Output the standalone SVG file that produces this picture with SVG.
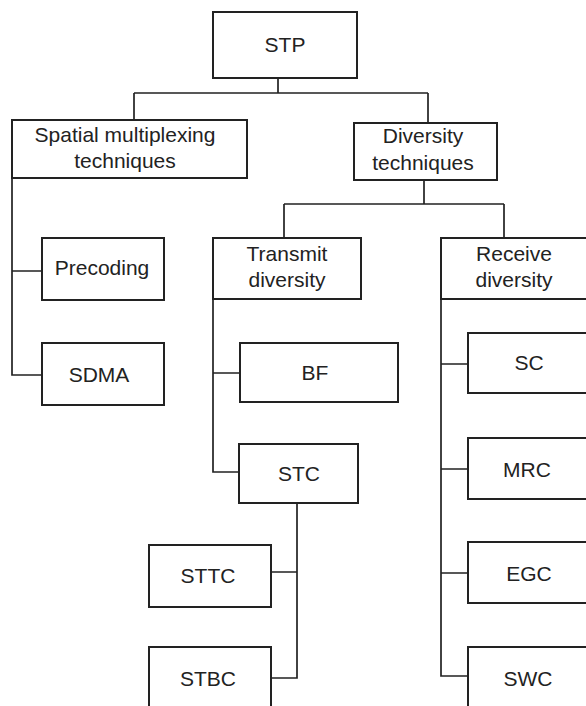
<svg xmlns="http://www.w3.org/2000/svg" width="586" height="706" viewBox="0 0 586 706">
<style>
.box{fill:#fff;stroke:#222;stroke-width:2}
.t{font-family:"Liberation Sans",Arial,sans-serif;font-size:21px;fill:#222;text-anchor:middle}
.c{fill:none;stroke:#222;stroke-width:1.7}
</style>
<rect width="586" height="706" fill="#fff"/>
<g id="connectors">
<path class="c" d="M278,78 V93 M134,93 H428 M134,93 V120 M428,93 V123"/>
<path class="c" d="M12,178 V375 H42 M12,271 H42"/>
<path class="c" d="M424,180 V204 M284,204 H504 M284,204 V238 M504,204 V238"/>
<path class="c" d="M213,299 V472 H239 M213,373 H240"/>
<path class="c" d="M297,503 V678 H271 M271,572 H297"/>
<path class="c" d="M441,299 V676 H468 M441,364 H468 M441,469 H468 M441,573 H468"/>
</g>
<g id="stp"><rect class="box" x="213" y="12" width="144" height="66"/><text class="t" x="285" y="52">STP</text></g>
<g id="spatial"><rect class="box" x="12" y="120" width="235" height="58"/><text class="t" x="125" y="142">Spatial multiplexing</text><text class="t" x="125" y="168">techniques</text></g>
<g id="diversity"><rect class="box" x="354" y="123" width="143" height="57"/><text class="t" x="423" y="143">Diversity</text><text class="t" x="423" y="170">techniques</text></g>
<g id="precoding"><rect class="box" x="42" y="238" width="122" height="62"/><text class="t" x="102" y="275">Precoding</text></g>
<g id="sdma"><rect class="box" x="42" y="343" width="122" height="62"/><text class="t" x="99" y="382">SDMA</text></g>
<g id="transmit"><rect class="box" x="213" y="238" width="148" height="61"/><text class="t" x="287" y="261">Transmit</text><text class="t" x="287" y="287">diversity</text></g>
<g id="receive"><rect class="box" x="441" y="238" width="150" height="61"/><text class="t" x="514" y="261">Receive</text><text class="t" x="514" y="287">diversity</text></g>
<g id="bf"><rect class="box" x="240" y="343" width="158" height="59"/><text class="t" x="315" y="380">BF</text></g>
<g id="stc"><rect class="box" x="239" y="444" width="119" height="59"/><text class="t" x="299" y="481">STC</text></g>
<g id="sttc"><rect class="box" x="149" y="545" width="122" height="62"/><text class="t" x="208" y="583">STTC</text></g>
<g id="stbc"><rect class="box" x="149" y="647" width="122" height="70"/><text class="t" x="208" y="686">STBC</text></g>
<g id="sc"><rect class="box" x="468" y="333" width="124" height="60"/><text class="t" x="529" y="370">SC</text></g>
<g id="mrc"><rect class="box" x="468" y="438" width="124" height="61"/><text class="t" x="527" y="477">MRC</text></g>
<g id="egc"><rect class="box" x="468" y="542" width="124" height="61"/><text class="t" x="529" y="581">EGC</text></g>
<g id="swc"><rect class="box" x="468" y="647" width="124" height="70"/><text class="t" x="528" y="686">SWC</text></g>
</svg>
